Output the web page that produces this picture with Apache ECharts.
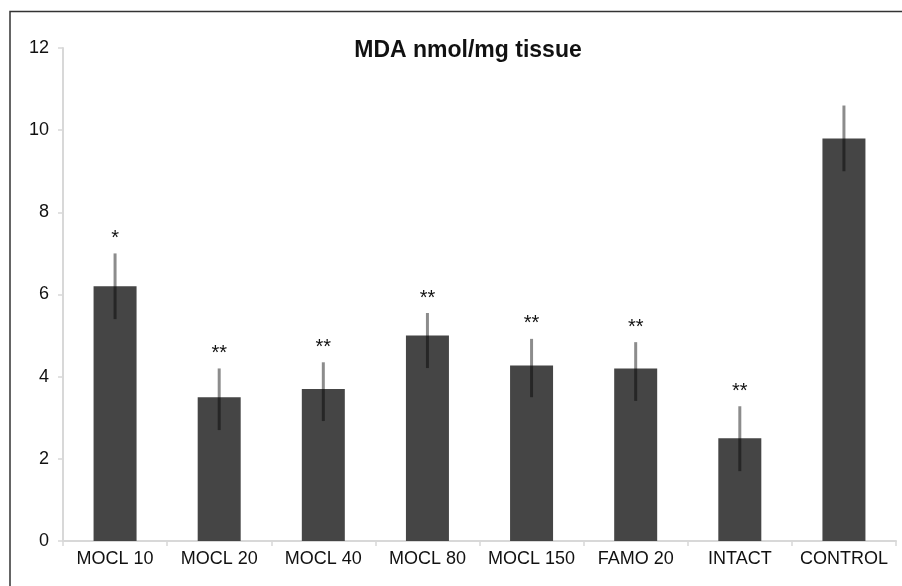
<!DOCTYPE html>
<html>
<head>
<meta charset="utf-8">
<script src="https://cdn.jsdelivr.net/npm/echarts@6/dist/echarts.min.js"></script>
<style>html,body{margin:0;padding:0;background:#fff}#c{width:902px;height:586px}</style>
</head>
<body>
<div id="c"></div>
<script>
var categories = ['MOCL 10','MOCL 20','MOCL 40','MOCL 80','MOCL 150','FAMO 20','INTACT','CONTROL'];
var means = [6.2, 3.5, 3.7, 5.0, 4.27, 4.2, 2.5, 9.8];
var errUpper = [7.0, 4.2, 4.35, 5.55, 4.92, 4.84, 3.28, 10.6];
var errLower = [5.4, 2.7, 2.92, 4.21, 3.5, 3.41, 1.7, 9.0];
var marks = ['*','**','**','**','**','**','**',''];
var yTicks = [0, 2, 4, 6, 8, 10, 12];

var chart = echarts.init(document.getElementById('c'));
var errData = categories.map(function(c, i){ return [i, errLower[i], errUpper[i], marks[i]]; });
var FONT = '"Liberation Sans", Arial, sans-serif';

chart.setOption({
  animation: false,
  backgroundColor: '#fff',
  title: {
    text: 'MDA nmol/mg tissue',
    left: 463, top: 34, textAlign: 'center',
    textStyle: {fontFamily: FONT, fontSize: 23, fontWeight: 'bold', color: '#111'}
  },
  grid: {left: 63, right: 6, top: 48, bottom: 45},
  xAxis: {
    type: 'category', data: categories,
    axisLine: {lineStyle: {color: '#d8d8d8', width: 2}},
    axisTick: {show: true, alignWithLabel: false, interval: 0, length: 5, lineStyle: {color: '#d8d8d8', width: 1.5}},
    axisLabel: {fontFamily: FONT, fontSize: 18, color: '#111', margin: 9, interval: 0}
  },
  yAxis: {
    type: 'value', min: yTicks[0], max: yTicks[yTicks.length-1], interval: 2,
    axisLine: {show: true, lineStyle: {color: '#d8d8d8', width: 2}},
    axisTick: {show: true, length: 5, lineStyle: {color: '#d8d8d8', width: 1.5}},
    splitLine: {show: false},
    axisLabel: {fontFamily: FONT, fontSize: 18, color: '#111', margin: 14}
  },
  graphic: [{
    type: 'polyline', silent: true, z: 100,
    shape: {points: [[10, 600], [10, 11.5], [920, 11.5]]},
    style: {stroke: '#333', lineWidth: 1.5, fill: null}
  }],
  series: [{
    type: 'bar', data: means, barWidth: 43,
    itemStyle: {color: '#454545'}
  }, {
    type: 'custom', data: errData, z: 10,
    renderItem: function(params, api){
      var top = api.coord([api.value(0), api.value(2)]);
      var bot = api.coord([api.value(0), api.value(1)]);
      var m = marks[params.dataIndex];
      var children = [{
        type: 'line',
        shape: {x1: top[0], y1: top[1], x2: bot[0], y2: bot[1]},
        style: {stroke: 'rgba(0,0,0,0.45)', lineWidth: 3}
      }];
      if (m) {
        children.push({
          type: 'text',
          style: {text: m, x: top[0], y: top[1] - 15, align: 'center', verticalAlign: 'middle',
                  font: '20px ' + FONT, fill: '#111'}
        });
      }
      return {type: 'group', children: children};
    }
  }]
});
</script>
</body>
</html>
